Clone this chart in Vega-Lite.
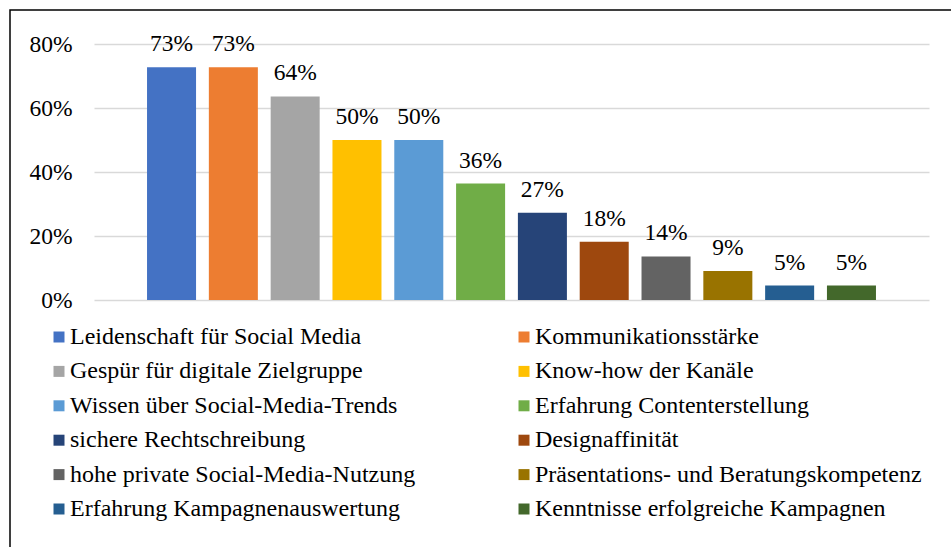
{
  "$schema": "https://vega.github.io/schema/vega-lite/v6.json",
  "width": 942,
  "height": 538,
  "autosize": {"type": "none"},
  "padding": {"left": 10, "top": 10, "right": 0, "bottom": 0},
  "config": {
    "view": {"stroke": "black", "strokeWidth": 1.5},
    "font": "Liberation Serif, Times New Roman, serif",
    "text": {"font": "Liberation Serif, Times New Roman, serif"}
  },
  "data": {
    "values": [
      {"item": "Leidenschaft für Social Media", "value": 0.727},
      {"item": "Kommunikationsstärke", "value": 0.727},
      {"item": "Gespür für digitale Zielgruppe", "value": 0.636},
      {"item": "Know-how der Kanäle", "value": 0.5},
      {"item": "Wissen über Social-Media-Trends", "value": 0.5},
      {"item": "Erfahrung Contenterstellung", "value": 0.364},
      {"item": "sichere Rechtschreibung", "value": 0.273},
      {"item": "Designaffinität", "value": 0.182},
      {"item": "hohe private Social-Media-Nutzung", "value": 0.136},
      {"item": "Präsentations- und Beratungskompetenz", "value": 0.091},
      {"item": "Erfahrung Kampagnenauswertung", "value": 0.045},
      {"item": "Kenntnisse erfolgreiche Kampagnen", "value": 0.045}
    ]
  },
  "encoding": {
    "x": {
      "field": "item",
      "type": "nominal",
      "sort": null,
      "scale": {"range": [84, 919], "paddingInner": 0.207, "paddingOuter": 0.858},
      "axis": null
    },
    "y": {
      "field": "value",
      "type": "quantitative",
      "scale": {"domain": [0, 0.8], "range": [290, 34]},
      "axis": {
        "format": ".0%",
        "values": [0, 0.2, 0.4, 0.6, 0.8],
        "grid": true,
        "gridColor": "#d9d9d9",
        "gridWidth": 1.5,
        "domain": false,
        "ticks": false,
        "tickSize": 0,
        "labelPadding": -62,
        "labelFontSize": 23.5,
        "labelColor": "black",
        "labelFont": "Liberation Serif, Times New Roman, serif",
        "title": null
      }
    }
  },
  "layer": [
    {
      "mark": {"type": "bar"},
      "encoding": {
        "color": {
          "field": "item",
          "type": "nominal",
          "sort": null,
          "scale": {
            "domain": ["Leidenschaft für Social Media", "Kommunikationsstärke", "Gespür für digitale Zielgruppe", "Know-how der Kanäle", "Wissen über Social-Media-Trends", "Erfahrung Contenterstellung", "sichere Rechtschreibung", "Designaffinität", "hohe private Social-Media-Nutzung", "Präsentations- und Beratungskompetenz", "Erfahrung Kampagnenauswertung", "Kenntnisse erfolgreiche Kampagnen"],
            "range": ["#4472C4", "#ED7D31", "#A5A5A5", "#FFC000", "#5B9BD5", "#70AD47", "#264478", "#9E480E", "#636363", "#997300", "#255E91", "#43682B"]
          },
          "legend": {
            "orient": "none",
            "direction": "horizontal",
            "legendX": 37,
            "legendY": 315,
            "columns": 2,
            "columnPadding": 96,
            "rowPadding": 10.4,
            "symbolType": "square",
            "symbolSize": 121,
            "symbolStrokeWidth": 0,
            "symbolOpacity": 1,
            "labelFontSize": 24,
            "labelFont": "Liberation Serif, Times New Roman, serif",
            "labelColor": "black",
            "labelLimit": 0,
            "labelOffset": -1,
            "padding": 0,
            "title": null
          }
        }
      }
    },
    {
      "mark": {"type": "text", "baseline": "alphabetic", "dy": -16, "fontSize": 23.5, "color": "black", "font": "Liberation Serif, Times New Roman, serif"},
      "encoding": {
        "text": {"field": "value", "type": "quantitative", "format": ".0%"}
      }
    }
  ]
}
